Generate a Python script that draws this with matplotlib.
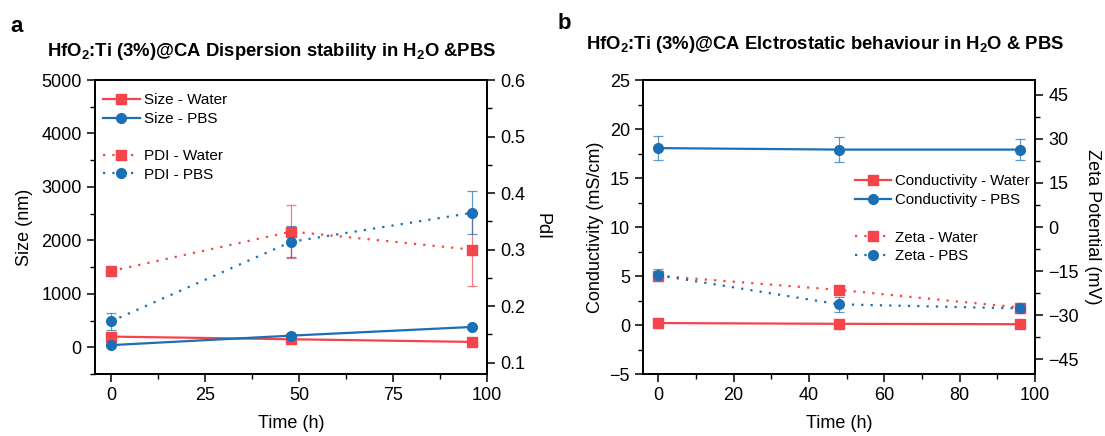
import matplotlib
matplotlib.use("Agg")
import matplotlib.pyplot as plt
from matplotlib.lines import Line2D
from matplotlib.ticker import MultipleLocator

plt.rcParams['font.family'] = ['Liberation Sans', 'DejaVu Sans']
plt.rcParams['mathtext.fontset'] = 'custom'
plt.rcParams['mathtext.rm'] = 'Liberation Sans'
plt.rcParams['mathtext.bf'] = 'Liberation Sans:bold'
plt.rcParams['axes.unicode_minus'] = True

# ---- data ----
time_h = [0, 48, 96]

size_water = [200, 150, 100]
size_pbs = [40, 218, 380]
pdi_water = [0.262, 0.332, 0.300]
pdi_water_err = [0.0, 0.047, 0.064]
pdi_pbs = [0.173, 0.314, 0.365]
pdi_pbs_err = [0.015, 0.027, 0.038]

cond_water = [0.2, 0.12, 0.08]
cond_water_err = [0.05, 0.05, 0.05]
cond_pbs = [18.05, 17.9, 17.9]
cond_pbs_err = [1.2, 1.3, 1.1]
zeta_water = [-16.6, -21.4, -27.4]
zeta_water_err = [0.5, 0.6, 0.6]
zeta_pbs = [-16.4, -26.3, -27.7]
zeta_pbs_err = [2.0, 2.5, 1.7]

RED = '#F5454A'
BLUE = '#1B6FB5'
DOT = (0, (1, 3.2))
FS = 13

fig = plt.figure(figsize=(11.05, 4.36), dpi=100)


def style_axes(ax):
    for s in ax.spines.values():
        s.set_linewidth(1.3)
    ax.tick_params(which='major', direction='out', length=6, width=1.1, labelsize=FS)
    ax.tick_params(which='minor', direction='out', length=3.5, width=1.0)


def series(ax, y, err, color, marker, ls, ms):
    _, caps, bars = ax.errorbar(time_h, y, yerr=err, color=color, ls=ls, lw=1.6,
                                marker=marker, ms=ms, mec=color, mfc=color,
                                ecolor=color, elinewidth=0.9, capsize=3.5, capthick=0.9,
                                zorder=3)
    for c in caps:
        c.set_alpha(0.7)
    for b in bars:
        b.set_alpha(0.7)


def legend_handles(n_blank):
    solid = [Line2D([], [], color=RED, ls='-', lw=1.6, marker='s', ms=6.5),
             Line2D([], [], color=BLUE, ls='-', lw=1.6, marker='o', ms=7)]
    dotted = [Line2D([], [], color=RED, ls=DOT, lw=1.6, marker='s', ms=6.5),
              Line2D([], [], color=BLUE, ls=DOT, lw=1.6, marker='o', ms=7)]
    return solid + [Line2D([], [], ls='none')] * n_blank + dotted


# ---------- panel a ----------
axa = fig.add_axes([0.086, 0.1422, 0.3548, 0.6743])
axa2 = axa.twinx()
series(axa, size_water, None, RED, 's', '-', 6.5)
series(axa, size_pbs, None, BLUE, 'o', '-', 7)
series(axa2, pdi_water, pdi_water_err, RED, 's', DOT, 6.5)
series(axa2, pdi_pbs, pdi_pbs_err, BLUE, 'o', DOT, 7)

axa.set_xlim(-4.2, 100)
axa.set_ylim(-500, 5000)
axa2.set_ylim(0.08, 0.6)
axa.xaxis.set_major_locator(MultipleLocator(25))
axa.xaxis.set_minor_locator(MultipleLocator(12.5))
axa.set_yticks([0, 1000, 2000, 3000, 4000, 5000])
axa.yaxis.set_minor_locator(MultipleLocator(500))
axa2.set_yticks([0.1, 0.2, 0.3, 0.4, 0.5, 0.6])
axa2.set_yticklabels(['0.1', '0.2', '0.3', '0.4', '0.5', '0.6'])
axa2.yaxis.set_minor_locator(MultipleLocator(0.05))
style_axes(axa)
style_axes(axa2)
axa.set_xlabel('Time (h)', fontsize=FS, labelpad=8)
axa.set_ylabel('Size (nm)', fontsize=FS, labelpad=6)
axa2.set_ylabel('PdI', fontsize=FS, rotation=270, labelpad=18)

l_a = ['Size - Water', 'Size - PBS', '', 'PDI - Water', 'PDI - PBS']
axa2.legend(legend_handles(1), l_a, loc='upper left', frameon=False, fontsize=11,
            handlelength=2.4, handletextpad=0.3, labelspacing=0.3,
            borderaxespad=0.0, bbox_to_anchor=(0.005, 0.975))

fig.text(0.246, 0.882, r'HfO$_{\mathbf{2}}$:Ti (3%)@CA Dispersion stability in H$_{\mathbf{2}}$O &PBS',
         ha='center', va='center', fontsize=13.3, fontweight='bold')
fig.text(0.009, 0.940, 'a', fontsize=16, fontweight='bold', ha='left', va='center')

# ---------- panel b ----------
axb = fig.add_axes([0.582, 0.1422, 0.3548, 0.6743])
axb2 = axb.twinx()
series(axb, cond_water, cond_water_err, RED, 's', '-', 6.5)
series(axb, cond_pbs, cond_pbs_err, BLUE, 'o', '-', 7)
series(axb2, zeta_water, zeta_water_err, RED, 's', DOT, 6.5)
series(axb2, zeta_pbs, zeta_pbs_err, BLUE, 'o', DOT, 7)

axb.set_xlim(-4, 100)
axb.set_ylim(-5, 25)
axb2.set_ylim(-50, 50)
axb.xaxis.set_major_locator(MultipleLocator(20))
axb.xaxis.set_minor_locator(MultipleLocator(10))
axb.yaxis.set_major_locator(MultipleLocator(5))
axb.yaxis.set_minor_locator(MultipleLocator(2.5))
axb2.set_yticks([-45, -30, -15, 0, 15, 30, 45])
axb2.yaxis.set_minor_locator(MultipleLocator(7.5))
style_axes(axb)
style_axes(axb2)
axb.set_xlabel('Time (h)', fontsize=FS, labelpad=8)
axb.set_ylabel('Conductivity (mS/cm)', fontsize=FS, labelpad=4)
axb2.set_ylabel('Zeta Potential (mV)', fontsize=FS, rotation=270, labelpad=16)

l_b = ['Conductivity - Water', 'Conductivity - PBS', '', 'Zeta - Water', 'Zeta - PBS']
axb2.legend(legend_handles(1), l_b, loc='upper left', frameon=False, fontsize=10.8,
            handlelength=2.4, handletextpad=0.3, labelspacing=0.32,
            borderaxespad=0.0, bbox_to_anchor=(0.525, 0.7))

fig.text(0.747, 0.897, r'HfO$_{\mathbf{2}}$:Ti (3%)@CA Elctrostatic behaviour in H$_{\mathbf{2}}$O & PBS',
         ha='center', va='center', fontsize=13.3, fontweight='bold')
fig.text(0.505, 0.945, 'b', fontsize=16, fontweight='bold', ha='left', va='center')

fig.savefig('out.png', dpi=100)
